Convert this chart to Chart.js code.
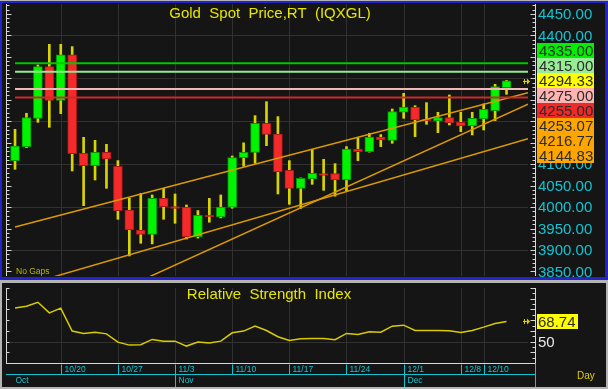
<!DOCTYPE html>
<html>
<head>
<meta charset="utf-8">
<script src="https://cdn.jsdelivr.net/npm/chart.js@4.4.1/dist/chart.umd.min.js"></script>
<style>
    html, body { margin: 0; padding: 0; background: #b4b4b4; }
    #wrap { position: relative; width: 608px; height: 389px; overflow: hidden; }
    canvas { position: absolute; left: 0; }
    #price { top: 0; }
    #rsi { top: 281px; }
</style>
</head>
<body>
<div id="wrap">
    <canvas id="price" width="608" height="281"></canvas>
    <canvas id="rsi" width="608" height="108"></canvas>
</div>
<script>
// trading days shown on the chart
const dates = [
    "10/14", "10/15", "10/16", "10/17",
    "10/20", "10/21", "10/22", "10/23", "10/24",
    "10/27", "10/28", "10/29", "10/30", "10/31",
    "11/3", "11/4", "11/5", "11/6", "11/7",
    "11/10", "11/11", "11/12", "11/13", "11/14",
    "11/17", "11/18", "11/19", "11/20", "11/21",
    "11/24", "11/25", "11/26", "11/27", "11/28",
    "12/1", "12/2", "12/3", "12/4", "12/5",
    "12/8", "12/9", "12/10", "12/11", "12/12"
]
const opens = [
    4108.2, 4140.8, 4206.8, 4327.2, 4248.7, 4354.4, 4125.3, 4096.5, 4127.6, 4095.0,
    3993.2, 3946.6, 3936.5, 4020.4, 4001.0, 4000.2, 3931.1, 3981.0, 3977.0, 4000.0,
    4115.0, 4127.6, 4195.2, 4170.3, 4085.6, 4043.7, 4065.5, 4078.0, 4078.0, 4063.1,
    4135.3, 4129.1, 4163.3, 4155.5, 4220.8, 4233.2, 4205.0, 4200.6, 4208.4, 4197.5,
    4189.0, 4205.2, 4224.7, 4278.3
]
const highs = [
    4181.2, 4218.5, 4331.0, 4379.2, 4379.2, 4373.8, 4162.5, 4155.5, 4146.2, 4108.2,
    4020.4, 4032.0, 4028.2, 4043.7, 4030.5, 4004.9, 3991.9, 4020.4, 4028.2, 4119.0,
    4149.6, 4213.0, 4245.6, 4210.7, 4108.2, 4068.0, 4134.6, 4111.3, 4101.2, 4140.8,
    4161.8, 4171.9, 4168.9, 4228.5, 4265.0, 4236.3, 4243.3, 4220.8, 4261.2, 4220.8,
    4220.8, 4240.2, 4286.0, 4295.3
]
const lows = [
    4088.0, 4138.5, 4197.5, 4185.8, 4217.7, 4084.1, 4003.3, 4063.1, 4043.7, 3971.5,
    3886.1, 3915.6, 3914.2, 3971.5, 3962.2, 3925.6, 3927.7, 3964.7, 3974.8, 3997.3,
    4095.2, 4101.9, 4143.1, 4030.5, 4006.4, 3997.0, 4053.0, 4039.0, 4025.3, 4038.2,
    4108.2, 4128.0, 4140.8, 4148.6, 4206.8, 4164.1, 4192.8, 4173.4, 4191.3, 4175.7,
    4168.0, 4179.6, 4201.4, 4262.7
]
const closes = [
    4142.3, 4208.4, 4327.2, 4248.7, 4354.4, 4124.5, 4096.5, 4127.6, 4112.0, 3991.7,
    3946.6, 3936.5, 4020.4, 4001.0, 3997.0, 3931.1, 3980.8, 3977.0, 4000.2, 4115.1,
    4127.6, 4195.2, 4169.5, 4081.8, 4043.7, 4067.0, 4078.7, 4074.0, 4063.1, 4135.3,
    4129.1, 4163.3, 4156.3, 4222.3, 4233.2, 4202.9, 4201.0, 4208.4, 4195.9, 4188.9,
    4206.8, 4227.8, 4280.6, 4294.33
]
const rsi = [
    81.4, 83.0, 86.7, 76.8, 81.2, 59.8, 57.5, 58.8, 57.2, 49.5,
    46.7, 47.0, 52.0, 50.4, 50.4, 45.8, 49.5, 48.6, 50.4, 58.2,
    59.8, 64.4, 60.3, 54.5, 51.0, 52.6, 52.9, 52.9, 51.7, 57.6,
    56.6, 59.1, 58.8, 64.4, 65.3, 60.4, 60.4, 60.4, 60.1, 58.5,
    60.4, 63.5, 66.9, 68.74
]
// horizontal levels and trend lines (start point, value at last bar)
const levels = [4335, 4315, 4275, 4255]
const trendFrom = [[0, 3953.5], [3, 3834.5], [11.5, 3834.5]]
const trendLast = [4253.07, 4144.83, 4216.77]
// axis labels
const priceTicks = [3850, 3900, 3950, 4000, 4050, 4100, 4150, 4200, 4250, 4300, 4350, 4400, 4450]
const weekTicks = ["10/20", "10/27", "11/3", "11/10", "11/17", "11/24", "12/1", "12/8", "12/10"]
const months = ["Oct", "Nov", "Dec"]
const monthStarts = ["10/14", "11/3", "12/1"]

const levelLineColors = ["#00c800", "#94e894", "#f2b8b8", "#cc2a2a"]
const levelBoxColors = ["#00f000", "#98ec98", "#ffb4b4", "#f02828"]
const FONT = "'Liberation Sans', Arial, sans-serif"
const XMIN = -0.44, XMAX = 44.88
const lastIdx = dates.length - 1
const lastClose = closes[lastIdx]

Chart.defaults.font.family = FONT

function seg(ctx, x1, y1, x2, y2) {
    ctx.beginPath()
    ctx.moveTo(x1, y1)
    ctx.lineTo(x2, y2)
    ctx.stroke()
}

function marker(ctx, x, y) {
    ctx.save()
    ctx.strokeStyle = "#e0d000"
    ctx.fillStyle = "#e0d000"
    ctx.lineWidth = 1
    seg(ctx, x - 4, y + 0.5, x + 1, y + 0.5)
    seg(ctx, x - 2.5, y - 2, x - 2.5, y + 3)
    ctx.beginPath()
    ctx.moveTo(x + 3, y + 0.5)
    ctx.lineTo(x, y - 2.5)
    ctx.lineTo(x, y + 3.5)
    ctx.closePath()
    ctx.fill()
    ctx.restore()
}

function weekGrid(chart) {
    const { ctx, chartArea: a, scales: { x } } = chart
    ctx.save()
    ctx.strokeStyle = "#313131"
    ctx.lineWidth = 1
    for (const t of weekTicks) {
        const px = Math.round(x.getPixelForValue(dates.indexOf(t))) + 0.5
        seg(ctx, px, a.top, px, a.bottom)
    }
    ctx.restore()
}

function sideTicks(ctx, scale, a, from, to, step, majorEvery, right) {
    ctx.save()
    ctx.strokeStyle = "#d8d8d8"
    ctx.lineWidth = 1
    const axX = right ? 535.5 : 6.5
    seg(ctx, axX, a.top, axX, a.bottom)
    for (let v = from; v <= to + 0.001; v += step) {
        const py = Math.round(scale.getPixelForValue(v)) + 0.5
        if (py < a.top || py > a.bottom) continue
        const len = (Math.round(v) % majorEvery === 0) ? 5 : 3
        if (right) seg(ctx, axX - len, py, axX, py)
        else seg(ctx, axX, py, axX + len, py)
    }
    ctx.restore()
}

const pricePlugin = {
    id: "priceDeco",
    beforeDraw(chart) {
        const ctx = chart.ctx
        ctx.save()
        ctx.fillStyle = "#151515"
        ctx.fillRect(0, 0, chart.width, chart.height)
        ctx.restore()
    },
    beforeDatasetsDraw(chart) {
        const { ctx, chartArea: a, scales: { y } } = chart
        weekGrid(chart)
        ctx.save()
        ctx.strokeStyle = "#313131"
        for (const v of priceTicks) {
            if (v % 100 !== 0) continue
            const py = Math.round(y.getPixelForValue(v)) + 0.5
            seg(ctx, a.left, py, a.right, py)
        }
        ctx.restore()
    },
    afterDraw(chart) {
        const { ctx, chartArea: a, scales: { y } } = chart
        sideTicks(ctx, y, a, 3840, 4470, 10, 50, true)
        sideTicks(ctx, y, a, 3840, 4470, 10, 50, false)

        ctx.save()
        ctx.textBaseline = "middle"
        ctx.textAlign = "left"
        ctx.font = "15px " + FONT
        ctx.fillStyle = "#12c4d2"
        for (const v of priceTicks) {
            ctx.fillText(v.toFixed(2), 538, y.getPixelForValue(v) + 1)
        }

        // stacked value boxes on the right
        const items = [
            { v: levels[0], c: levelBoxColors[0] },
            { v: levels[1], c: levelBoxColors[1] },
            { v: lastClose, c: "#ffff00" },
            { v: levels[2], c: levelBoxColors[2] },
            { v: levels[3], c: levelBoxColors[3] },
        ]
        trendLast.forEach(v => items.push({ v: v, c: "#ffa500" }))
        items.sort((p, q) => q.v - p.v)
        const k = items.findIndex(it => it.v === lastClose)
        const y0 = y.getPixelForValue(lastClose)
        items.forEach((it, i) => {
            const cy = y0 + (i - k) * 15
            ctx.fillStyle = it.c
            ctx.fillRect(537, Math.round(cy - 7.5), 57, 15)
            ctx.fillStyle = "#2c2c2c"
            ctx.fillText(it.v.toFixed(2), 539, cy + 1)
        })

        marker(ctx, 527, Math.round(y0))

        ctx.fillStyle = "#e6e600"
        ctx.textAlign = "center"
        ctx.font = "15px " + FONT
        ctx.fillText("Gold  Spot  Price,RT  (IQXGL)", 270, 14)

        ctx.textAlign = "left"
        ctx.font = "8.5px " + FONT
        ctx.fillStyle = "#b8b800"
        ctx.fillText("No Gaps", 16, 272)

        // frame
        ctx.fillStyle = "#b4b4b4"
        ctx.fillRect(0, 0, chart.width, 1)
        ctx.fillRect(0, 280, chart.width, 1)
        ctx.fillStyle = "#2424c8"
        ctx.fillRect(0, 1, chart.width, 2)
        ctx.fillRect(0, 1, 2, 279)
        ctx.fillRect(605, 1, 3, 279)
        ctx.fillRect(0, 277, chart.width, 3)
        ctx.restore()
    }
}

const rsiPlugin = {
    id: "rsiDeco",
    beforeDraw(chart) {
        const ctx = chart.ctx
        ctx.save()
        ctx.fillStyle = "#151515"
        ctx.fillRect(0, 0, chart.width, chart.height)
        ctx.restore()
    },
    beforeDatasetsDraw(chart) {
        const { ctx, chartArea: a, scales: { y } } = chart
        weekGrid(chart)
        ctx.save()
        ctx.strokeStyle = "#313131"
        const py = Math.round(y.getPixelForValue(50)) + 0.5
        seg(ctx, a.left, py, a.right, py)
        ctx.restore()
    },
    afterDraw(chart) {
        const { ctx, chartArea: a, scales: { x, y } } = chart
        sideTicks(ctx, y, a, 30, 100, 5, 10, true)
        sideTicks(ctx, y, a, 30, 100, 10, 1000, false)

        ctx.save()
        const bottom = Math.round(a.bottom) + 0.5
        ctx.strokeStyle = "#d8d8d8"
        seg(ctx, 6, bottom, 536, bottom)

        // date axis
        ctx.strokeStyle = "#12c4d2"
        ctx.fillStyle = "#12c4d2"
        ctx.lineWidth = 1
        ctx.font = "8.5px " + FONT
        ctx.textBaseline = "middle"
        ctx.textAlign = "left"
        const row = bottom + 11
        for (const t of weekTicks) {
            const px = Math.round(x.getPixelForValue(dates.indexOf(t))) + 0.5
            seg(ctx, px, bottom + 1, px, row)
            ctx.fillText(t, px + 3, bottom + 6.5)
        }
        seg(ctx, 6, row, 536, row)
        seg(ctx, 535.5, bottom, 535.5, chart.height)
        months.forEach((m, i) => {
            const idx = dates.indexOf(monthStarts[i])
            let px = Math.round(x.getPixelForValue(idx)) + 0.5
            if (i > 0) {
                seg(ctx, px, row, px, chart.height)
                px += 3
            }
            ctx.fillText(m, px, row + 6.5)
        })

        ctx.fillStyle = "#e0d000"
        ctx.font = "10px " + FONT
        ctx.fillText("Day", 577, 95)

        ctx.font = "15px " + FONT
        ctx.textAlign = "center"
        ctx.fillStyle = "#e6e600"
        ctx.fillText("Relative  Strength  Index", 269, 14)

        const last = rsi[rsi.length - 1]
        const ly = y.getPixelForValue(last)
        ctx.textAlign = "left"
        ctx.fillStyle = "#ffff00"
        ctx.fillRect(537, Math.round(ly - 7.5), 41, 15)
        ctx.fillStyle = "#2c2c2c"
        ctx.fillText(last.toFixed(2), 538, ly + 1)
        ctx.fillStyle = "#e8e8e8"
        ctx.fillText("50", 538, y.getPixelForValue(50) + 1)
        marker(ctx, 527, Math.round(ly))

        // frame
        ctx.fillStyle = "#b4b4b4"
        ctx.fillRect(0, 0, chart.width, 2)
        ctx.fillRect(0, 0, 2, chart.height)
        ctx.fillRect(606, 0, 2, chart.height)
        ctx.fillRect(0, 106, chart.width, 2)
        ctx.restore()
    }
}

const bodies = dates.map((d, i) => ({ x: i, y: [opens[i], closes[i]] }))
const wicks = dates.map((d, i) => ({ x: i, y: [lows[i], highs[i]] }))
const up = dates.map((d, i) => closes[i] >= opens[i])

const lineSets = levels.map((v, i) => ({
    type: "line",
    data: [{ x: 0, y: v }, { x: XMAX, y: v }],
    borderColor: levelLineColors[i],
    borderWidth: 2,
    pointRadius: 0,
    order: 0
}))
trendFrom.forEach((p, i) => {
    const slope = (trendLast[i] - p[1]) / (lastIdx - p[0])
    lineSets.push({
        type: "line",
        data: [{ x: p[0], y: p[1] }, { x: XMAX, y: trendLast[i] + slope * (XMAX - lastIdx) }],
        borderColor: "#dc9a00",
        borderWidth: 1.5,
        pointRadius: 0,
        order: 0
    })
})

new Chart(document.getElementById("price"), {
    type: "bar",
    data: {
        datasets: [
            ...lineSets,
            {
                type: "bar",
                data: bodies,
                backgroundColor: up.map(u => u ? "#00f400" : "#f42a2a"),
                borderColor: up.map(u => u ? "#009a00" : "#a81818"),
                borderWidth: 1,
                borderSkipped: false,
                barThickness: 9,
                grouped: false,
                order: 1
            },
            {
                type: "bar",
                data: wicks,
                backgroundColor: "#d8d400",
                barThickness: 2,
                grouped: false,
                order: 2
            }
        ]
    },
    options: {
        responsive: false,
        animation: false,
        events: [],
        layout: { padding: { left: 10, right: 80, top: 4, bottom: 5 } },
        plugins: { legend: { display: false }, tooltip: { enabled: false } },
        scales: {
            x: { type: "linear", display: false, offset: false, min: XMIN, max: XMAX },
            y: { display: false, min: 3839.4, max: 4473.1 }
        }
    },
    plugins: [pricePlugin]
})

new Chart(document.getElementById("rsi"), {
    type: "line",
    data: {
        datasets: [{
            data: rsi.map((v, i) => ({ x: i, y: v })),
            borderColor: "#d8cc00",
            borderWidth: 1.5,
            pointRadius: 0,
            tension: 0
        }]
    },
    options: {
        responsive: false,
        animation: false,
        events: [],
        layout: { padding: { left: 10, right: 80, top: 7, bottom: 26 } },
        plugins: { legend: { display: false }, tooltip: { enabled: false } },
        scales: {
            x: { type: "linear", display: false, min: XMIN, max: XMAX },
            y: { display: false, min: 30, max: 100 }
        }
    },
    plugins: [rsiPlugin]
})
</script>
</body>
</html>
